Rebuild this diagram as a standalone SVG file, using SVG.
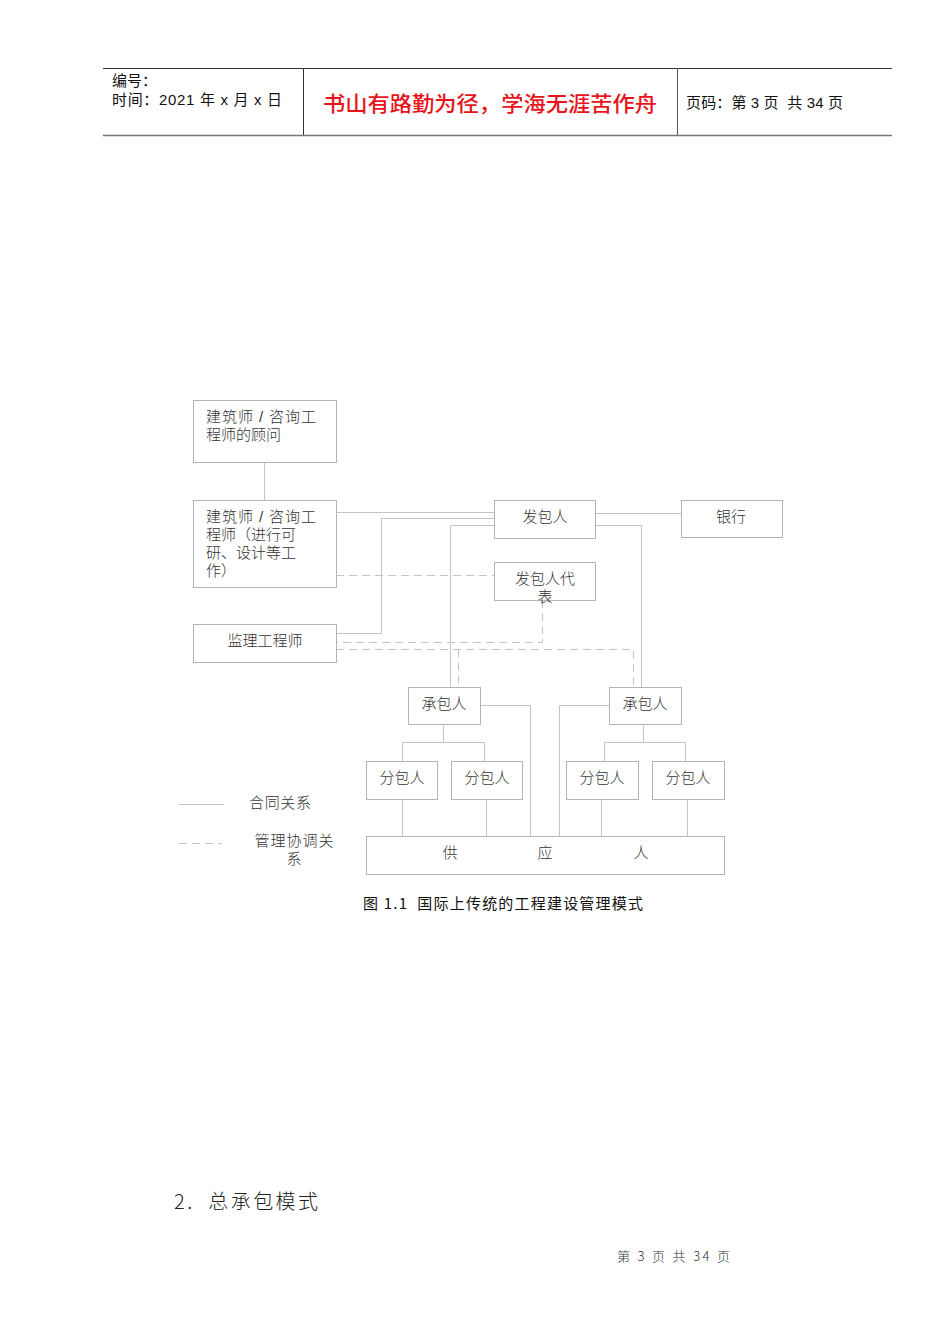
<svg xmlns="http://www.w3.org/2000/svg" width="950" height="1344" viewBox="0 0 950 1344">
<style>
.hdr{font-family:"Liberation Sans","Noto Sans CJK SC",sans-serif;font-size:15px;fill:#111}
.box{fill:#fff;stroke:#b4b4b4;stroke-width:1}
.t{font-family:"Liberation Sans","Noto Sans CJK SC",sans-serif;font-size:15px;fill:#333;font-weight:300}
.c{text-anchor:middle}
.ln{fill:none;stroke:#c4c4c4;stroke-width:1}
.ds{fill:none;stroke:#c4c4c4;stroke-width:1;stroke-dasharray:8,5}
</style>
<rect width="950" height="1344" fill="#fff"/>
<g id="header">
<line x1="103" y1="68.5" x2="892" y2="68.5" stroke="#333" stroke-width="1"/>
<line x1="103" y1="135.5" x2="892" y2="135.5" stroke="#777" stroke-width="1.5"/>
<line x1="303.5" y1="68" x2="303.5" y2="135" stroke="#333"/>
<line x1="677.5" y1="68" x2="677.5" y2="135" stroke="#555"/>
<text class="hdr" x="112" y="86">编号：</text>
<text class="hdr" x="112" y="105" textLength="170" lengthAdjust="spacing" xml:space="preserve">时间：2021 年 x 月 x 日</text>
<text x="323" y="111" textLength="334" lengthAdjust="spacingAndGlyphs" font-family="Noto Sans CJK SC,sans-serif" font-size="21" fill="#e8141b" font-weight="500">书山有路勤为径，学海无涯苦作舟</text>
<text class="hdr" x="686" y="108" textLength="157" lengthAdjust="spacing" xml:space="preserve">页码：第 3 页  共 34 页</text>
</g>
<g id="connectors">
<line class="ln" x1="264.5" y1="462" x2="264.5" y2="500"/>
<polyline class="ln" points="336,512.5 494,512.5"/>
<polyline class="ln" points="336,633.5 381.5,633.5 381.5,518.5 494,518.5"/>
<polyline class="ln" points="450.5,687 450.5,525.5 494,525.5"/>
<polyline class="ln" points="595,513.5 681,513.5"/>
<polyline class="ln" points="595,525.5 641.5,525.5 641.5,687"/>
<polyline class="ds" points="336,575.5 494,575.5"/>
<polyline class="ds" points="542.5,600 542.5,642.5 336,642.5"/>
<polyline class="ds" points="336,649.5 633.5,649.5 633.5,687"/>
<polyline class="ds" points="458.5,649.5 458.5,687"/>
<polyline class="ln" points="480,705.5 530.5,705.5 530.5,836"/>
<polyline class="ln" points="609,705.5 559.5,705.5 559.5,836"/>
<polyline class="ln" points="443.5,724 443.5,742.5"/>
<polyline class="ln" points="402.5,761 402.5,742.5 484.5,742.5 484.5,761"/>
<polyline class="ln" points="643.5,724 643.5,742.5"/>
<polyline class="ln" points="604.5,761 604.5,742.5 685.5,742.5 685.5,761"/>
<line class="ln" x1="402.5" y1="799" x2="402.5" y2="836"/>
<line class="ln" x1="486.5" y1="799" x2="486.5" y2="836"/>
<line class="ln" x1="601.5" y1="799" x2="601.5" y2="836"/>
<line class="ln" x1="687.5" y1="799" x2="687.5" y2="836"/>
</g>
<g id="n-consultant"><rect class="box" x="193.5" y="400.5" width="143" height="62"/>
<text class="t" x="206" y="422" xml:space="preserve"><tspan x="206" textLength="110" lengthAdjust="spacing">建筑师 / 咨询工</tspan><tspan x="206" dy="18">程师的顾问</tspan></text></g>
<g id="n-architect"><rect class="box" x="193.5" y="500.5" width="143" height="87"/>
<text class="t" x="206" y="522" xml:space="preserve"><tspan x="206" textLength="110" lengthAdjust="spacing">建筑师 / 咨询工</tspan><tspan x="206" dy="18">程师（进行可</tspan><tspan x="206" dy="18">研、设计等工</tspan><tspan x="206" dy="18">作）</tspan></text></g>
<g id="n-employer"><rect class="box" x="494.5" y="500.5" width="101" height="38"/>
<text class="t c" x="545" y="522">发包人</text></g>
<g id="n-bank"><rect class="box" x="681.5" y="500.5" width="101" height="37"/>
<text class="t c" x="731" y="522">银行</text></g>
<g id="n-employer-rep"><rect class="box" x="494.5" y="562.5" width="101" height="38"/>
<text class="t c" x="545" y="584"><tspan x="545">发包人代</tspan><tspan x="545" dy="18">表</tspan></text></g>
<g id="n-supervisor"><rect class="box" x="193.5" y="624.5" width="143" height="38"/>
<text class="t c" x="265" y="646">监理工程师</text></g>
<g id="n-contractor1"><rect class="box" x="408.5" y="687.5" width="72" height="37"/>
<text class="t c" x="444" y="709">承包人</text></g>
<g id="n-contractor2"><rect class="box" x="609.5" y="687.5" width="72" height="37"/>
<text class="t c" x="645" y="709">承包人</text></g>
<g id="n-sub1"><rect class="box" x="366.5" y="761.5" width="71" height="38"/><text class="t c" x="402" y="783">分包人</text></g>
<g id="n-sub2"><rect class="box" x="451.5" y="761.5" width="71" height="38"/><text class="t c" x="487" y="783">分包人</text></g>
<g id="n-sub3"><rect class="box" x="566.5" y="761.5" width="72" height="38"/><text class="t c" x="602" y="783">分包人</text></g>
<g id="n-sub4"><rect class="box" x="652.5" y="761.5" width="72" height="38"/><text class="t c" x="688" y="783">分包人</text></g>
<g id="n-supplier"><rect class="box" x="366.5" y="836.5" width="358" height="38"/>
<text class="t c" x="450" y="858">供</text><text class="t c" x="545" y="858">应</text><text class="t c" x="641" y="858">人</text></g>
<g id="legend">
<line class="ln" x1="179" y1="804.5" x2="224" y2="804.5"/>
<text class="t" x="249" y="808" textLength="62" lengthAdjust="spacing">合同关系</text>
<line class="ds" x1="179" y1="843.5" x2="222" y2="843.5"/>
<text class="t c" x="294" y="846"><tspan x="294" textLength="79" lengthAdjust="spacing">管理协调关</tspan><tspan x="294" dy="18">系</tspan></text>
</g>
<text x="363" y="909" textLength="280" lengthAdjust="spacing" xml:space="preserve" font-family="Noto Sans CJK SC,sans-serif" font-size="15" fill="#111">图 1.1  国际上传统的工程建设管理模式</text>
<text x="174" y="1209" textLength="144" lengthAdjust="spacing" xml:space="preserve" font-family="Noto Sans CJK SC,sans-serif" font-size="20" fill="#222" font-weight="300">2.  总承包模式</text>
<text x="617" y="1261" textLength="113" lengthAdjust="spacing" xml:space="preserve" font-family="Noto Sans CJK SC,sans-serif" font-size="13" fill="#333" font-weight="300">第 3 页 共 34 页</text>
</svg>
